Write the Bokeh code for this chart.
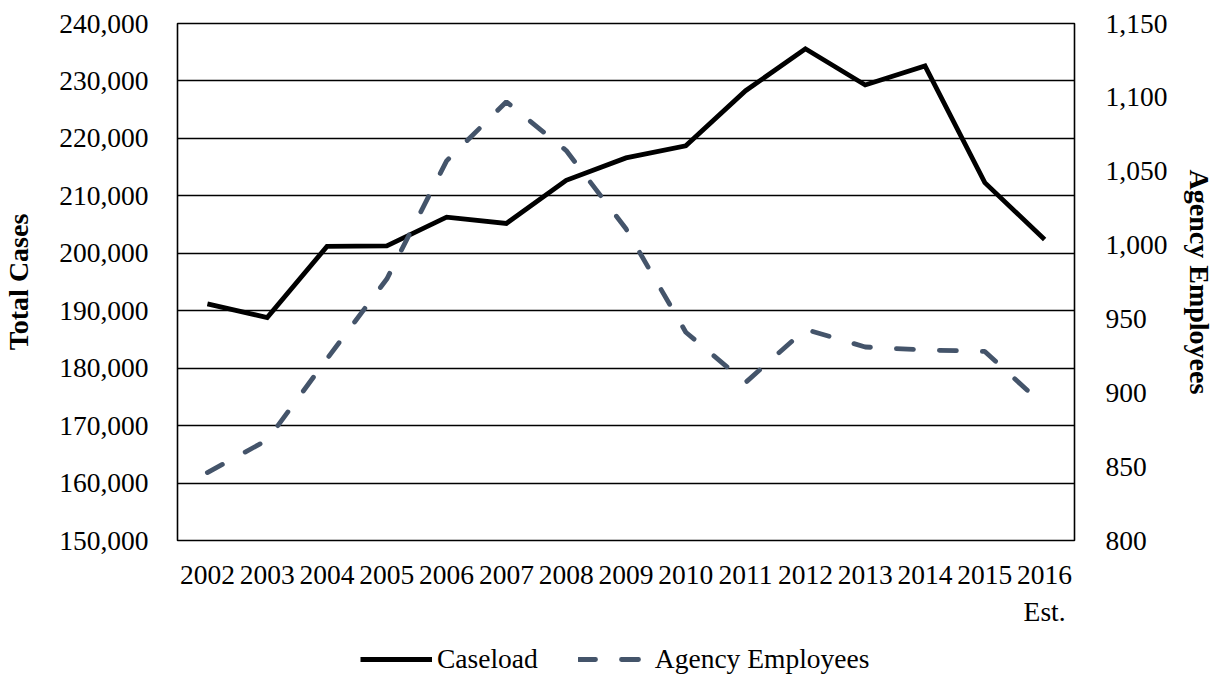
from bokeh.plotting import figure
from bokeh.layouts import column
from bokeh.models import (Range1d, LinearAxis, FactorRange, FixedTicker,
                          NumeralTickFormatter, Legend, LegendItem)
from bokeh.embed import file_html
from bokeh.resources import INLINE

years = ["2002", "2003", "2004", "2005", "2006", "2007", "2008", "2009",
         "2010", "2011", "2012", "2013", "2014", "2015", "2016\nEst."]
caseload = [191200, 188800, 201200, 201300, 206300, 205200, 212700, 216600,
            218700, 228300, 235600, 229300, 232600, 212300, 202400]
employees = [846, 868, 923, 977, 1057, 1097, 1064, 1011,
             941, 907, 943, 931, 929, 928, 891]
left_ticks = [150000, 160000, 170000, 180000, 190000, 200000, 210000,
              220000, 230000, 240000]
right_ticks = [800, 850, 900, 950, 1000, 1050, 1100, 1150]
series_names = ["Caseload", "Agency Employees"]

FONT = "Liberation Serif"
FS = "27.5px"
TFS = "28px"
CASE_STYLE = dict(line_color="black", line_width=4.8, line_join="miter")
EMP_STYLE = dict(line_color="#44546A", line_width=4.8, line_dash="17 26",
                 line_cap="round")

p = figure(x_range=FactorRange(*years), y_range=Range1d(150000, 240000),
           width=1218, height=630, output_backend="svg", toolbar_location=None,
           min_border_left=175, min_border_right=144, min_border_top=23,
           min_border_bottom=90)
p.background_fill_color = "white"
p.border_fill_color = "white"
p.outline_line_color = "black"
p.outline_line_width = 1.6

p.extra_y_ranges = {"emp": Range1d(800, 1150)}

# left axis
ly = p.yaxis[0]
ly.ticker = FixedTicker(ticks=left_ticks)
ly.formatter = NumeralTickFormatter(format="0,0")
ly.axis_label = "Total Cases"
ly.axis_label_text_font = FONT
ly.axis_label_text_font_size = TFS
ly.axis_label_text_font_style = "bold"
ly.axis_label_text_color = "black"
ly.axis_label_standoff = 22
ly.major_label_text_font = FONT
ly.major_label_text_font_size = FS
ly.major_label_text_color = "black"
ly.major_label_standoff = 23
ly.major_tick_line_color = None
ly.minor_tick_line_color = None
ly.axis_line_color = None

# bottom axis
xa = p.xaxis[0]
xa.major_label_text_font = FONT
xa.major_label_text_font_size = FS
xa.major_label_text_color = "black"
xa.major_label_standoff = 12
xa.major_tick_line_color = None
xa.axis_line_color = None

# right axis
ra = LinearAxis(y_range_name="emp", ticker=FixedTicker(ticks=right_ticks),
                formatter=NumeralTickFormatter(format="0,0"),
                axis_label="Agency Employees")
ra.axis_label_text_font = FONT
ra.axis_label_text_font_size = TFS
ra.axis_label_text_font_style = "bold"
ra.axis_label_text_color = "black"
ra.axis_label_standoff = 14
ra.major_label_text_font = FONT
ra.major_label_text_font_size = FS
ra.major_label_text_color = "black"
ra.major_label_standoff = 25
ra.major_tick_line_color = None
ra.minor_tick_line_color = None
ra.axis_line_color = None
p.add_layout(ra, "right")

p.xgrid.grid_line_color = None
p.ygrid.grid_line_color = "black"
p.ygrid.grid_line_width = 1.3
p.ygrid.ticker = FixedTicker(ticks=left_ticks)

p.line(years, caseload, **CASE_STYLE)
p.line(years, employees, y_range_name="emp", **EMP_STYLE)

# legend strip below the chart (its series lie outside this strip's range,
# so only the legend swatches and labels show)
p2 = figure(width=1218, height=45, output_backend="svg", toolbar_location=None,
            x_range=FactorRange(*years), y_range=Range1d(0, 1),
            min_border_left=0, min_border_right=0, min_border_top=0,
            min_border_bottom=0)
p2.axis.visible = False
p2.grid.visible = False
p2.outline_line_color = None
p2.background_fill_color = "white"
p2.border_fill_color = "white"
k1 = p2.line(years, caseload, **CASE_STYLE)
k2 = p2.line(years, employees, **EMP_STYLE)

legend = Legend(items=[LegendItem(label=series_names[0], renderers=[k1]),
                       LegendItem(label=series_names[1], renderers=[k2])],
                orientation="horizontal", location=(183, 0),
                glyph_width=72, glyph_height=24, label_height=24,
                label_standoff=5, spacing=40, padding=0, margin=0,
                border_line_color=None, background_fill_alpha=0,
                label_text_font=FONT, label_text_font_size=FS,
                label_text_color="black")
p2.add_layout(legend, "center")

open("out.html", "w").write(file_html(column(p, p2, spacing=0), INLINE))
